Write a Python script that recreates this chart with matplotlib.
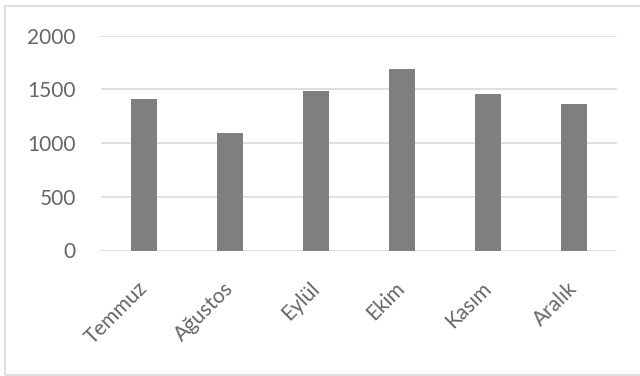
import matplotlib.pyplot as plt
from matplotlib.patches import Rectangle

# Chart data
months = ['Temmuz', 'Ağustos', 'Eylül', 'Ekim', 'Kasım', 'Aralık']
values = [1410, 1090, 1485, 1685, 1460, 1360]
y_ticks = [0, 500, 1000, 1500, 2000]

plt.rcParams['font.family'] = ['Lato', 'DejaVu Sans']

fig = plt.figure(figsize=(6.4, 3.76), dpi=100)
ax = fig.add_axes([101 / 640, 1 - 250.5 / 376, 516 / 640, 215 / 376])

ax.bar(range(len(months)), values, width=0.31, color='#7f7f7f', zorder=3)

ax.set_xlim(-0.5, len(months) - 0.5)
ax.set_ylim(0, 2000)
ax.set_yticks(y_ticks)
ax.set_yticklabels([str(v) for v in y_ticks])
ax.set_xticks(range(len(months)))
ax.set_xticklabels(months, rotation=45, ha='right', va='center', rotation_mode='anchor')

ax.grid(axis='y', color='#d9d9d9', linewidth=1.2, zorder=0)
for side in ['top', 'right', 'left', 'bottom']:
    ax.spines[side].set_visible(False)

ax.tick_params(axis='y', length=0, pad=18, labelsize=15, labelcolor='#666666')
ax.tick_params(axis='x', length=0, pad=25, labelsize=15, labelcolor='#666666')

# chart border like Excel
fig.patches.append(Rectangle((5 / 640, 1 / 376), 700 / 640, 369 / 376,
                             transform=fig.transFigure, fill=False,
                             edgecolor='#d9d9d9', linewidth=1.2))

fig.savefig('out.png', dpi=100)
